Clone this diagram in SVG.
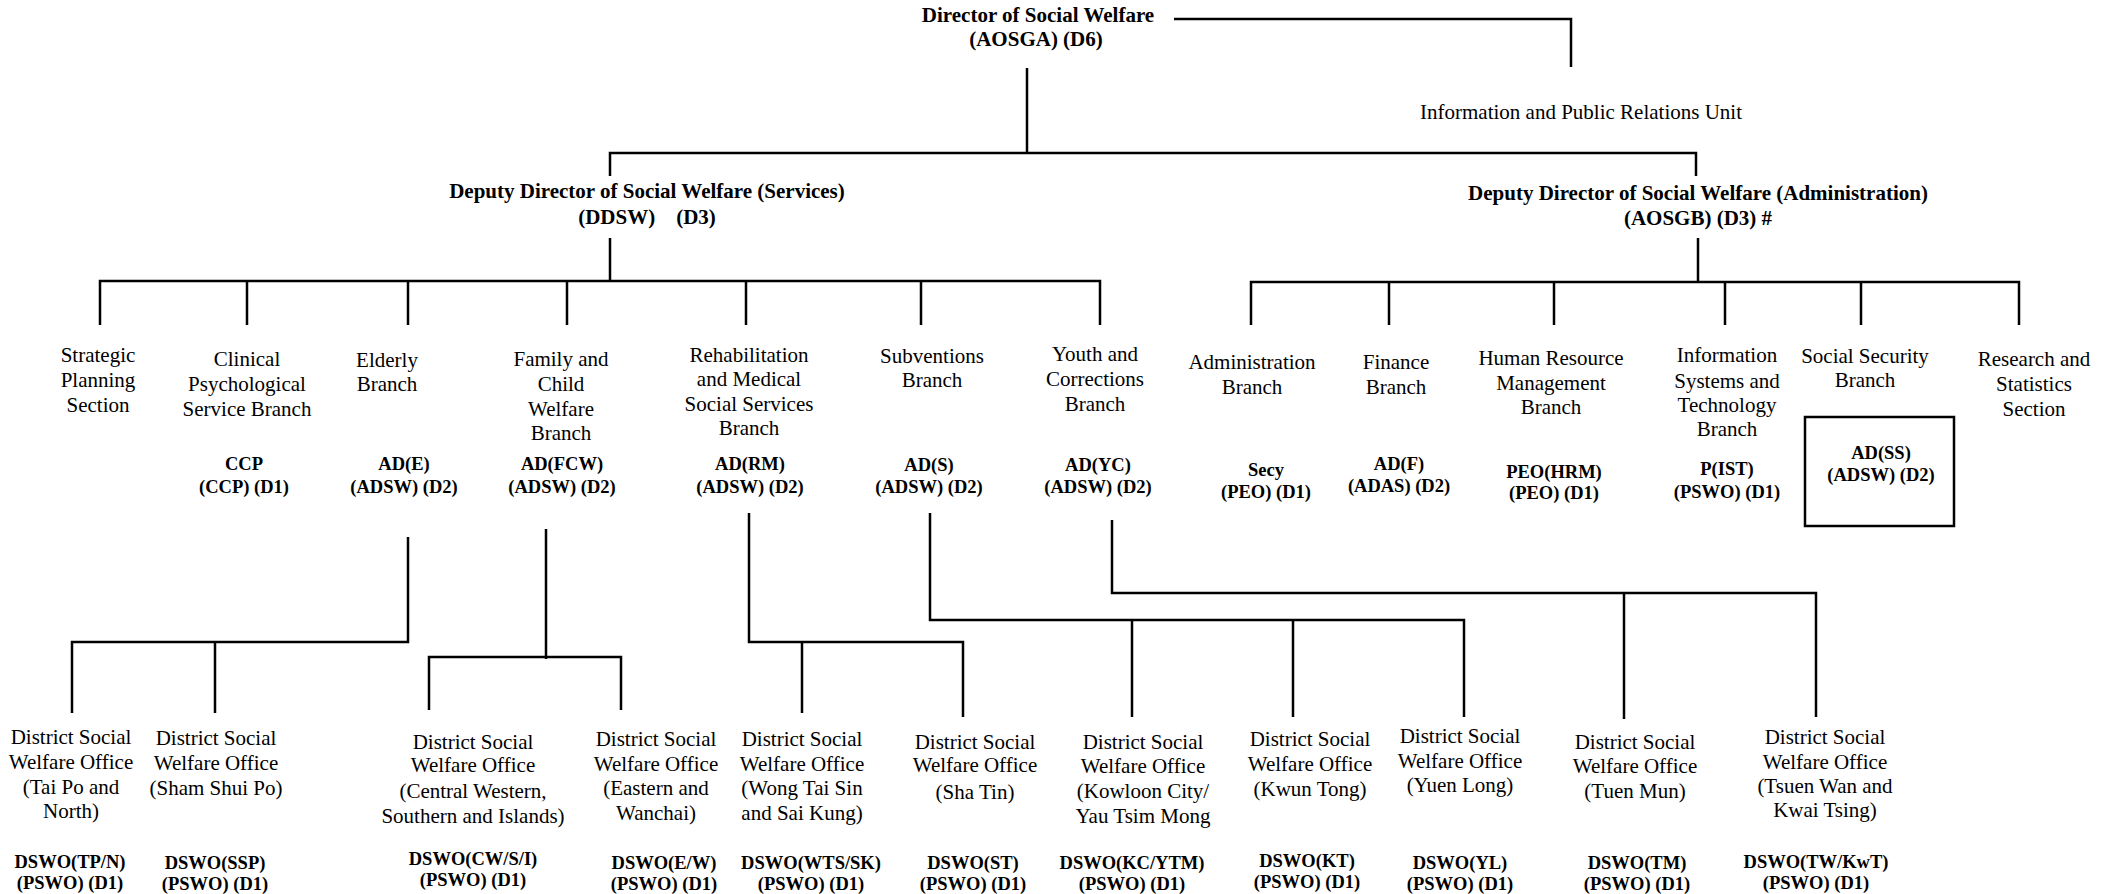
<svg xmlns="http://www.w3.org/2000/svg" width="2116" height="894" viewBox="0 0 2116 894">
<style>
.h{font-family:"Liberation Serif","Times New Roman",serif;font-size:21px;font-weight:bold;text-anchor:middle;fill:#000}
.t{font-family:"Liberation Serif","Times New Roman",serif;font-size:21px;text-anchor:middle;fill:#000}
.c{font-family:"Liberation Serif","Times New Roman",serif;font-size:18.5px;font-weight:bold;text-anchor:middle;fill:#000}
.ln{stroke:#000;stroke-width:2.5;fill:none}
.box{stroke:#000;stroke-width:2.5;fill:none}
</style>
<rect width="2116" height="894" fill="#fff"/>
<g id="connectors" class="ln">
<path d="M1174 19H1571V67"/>
<path d="M1027 68V153"/>
<path d="M610 176V153H1696V176"/>
<path d="M610 238V281"/>
<path d="M100 325V281H1100V325"/>
<path d="M247 281V325M408 281V325M567 281V325M746 281V325M921 281V325"/>
<path d="M1698 238V282"/>
<path d="M1251 325V282H2019V325"/>
<path d="M1389 282V325M1554 282V325M1725 282V325M1861 282V325"/>
<path d="M408 537V642H72V713M215 642V713"/>
<path d="M546 529V659M429 710V657H621V710"/>
<path d="M749 513V642H963V717M802 642V713"/>
<path d="M930 513V620H1464V717M1132 620V717M1293 620V717"/>
<path d="M1112 520V593H1816V717M1624 593V719"/>
</g>
<g id="director"><text class="h" x="1038"><tspan x="1038" y="22">Director of Social Welfare</tspan><tspan x="1036" y="46">(AOSGA) (D6)</tspan></text></g>
<g id="iprunit"><text class="t" x="1581" y="119">Information and Public Relations Unit</text></g>
<g id="ddsw-services"><text class="h" xml:space="preserve"><tspan x="647" y="198">Deputy Director of Social Welfare (Services)</tspan><tspan x="647" y="224">(DDSW)    (D3)</tspan></text></g>
<g id="ddsw-admin"><text class="h"><tspan x="1698" y="200">Deputy Director of Social Welfare (Administration)</tspan><tspan x="1698" y="225">(AOSGB) (D3) #</tspan></text></g>

<g id="strategic"><text class="t"><tspan x="98" y="362">Strategic</tspan><tspan x="98" y="387">Planning</tspan><tspan x="98" y="412">Section</tspan></text></g>
<g id="clinical"><text class="t"><tspan x="247" y="366">Clinical</tspan><tspan x="247" y="391">Psychological</tspan><tspan x="247" y="416">Service Branch</tspan></text><text class="c"><tspan x="244" y="470">CCP</tspan><tspan x="244" y="493">(CCP) (D1)</tspan></text></g>
<g id="elderly"><text class="t"><tspan x="387" y="367">Elderly</tspan><tspan x="387" y="391">Branch</tspan></text><text class="c"><tspan x="404" y="470">AD(E)</tspan><tspan x="404" y="493">(ADSW) (D2)</tspan></text></g>
<g id="fcw"><text class="t"><tspan x="561" y="366">Family and</tspan><tspan x="561" y="391">Child</tspan><tspan x="561" y="416">Welfare</tspan><tspan x="561" y="440">Branch</tspan></text><text class="c"><tspan x="562" y="470">AD(FCW)</tspan><tspan x="562" y="493">(ADSW) (D2)</tspan></text></g>
<g id="rehab"><text class="t"><tspan x="749" y="362">Rehabilitation</tspan><tspan x="749" y="386">and Medical</tspan><tspan x="749" y="411">Social Services</tspan><tspan x="749" y="435">Branch</tspan></text><text class="c"><tspan x="750" y="470">AD(RM)</tspan><tspan x="750" y="493">(ADSW) (D2)</tspan></text></g>
<g id="subventions"><text class="t"><tspan x="932" y="363">Subventions</tspan><tspan x="932" y="387">Branch</tspan></text><text class="c"><tspan x="929" y="471">AD(S)</tspan><tspan x="929" y="493">(ADSW) (D2)</tspan></text></g>
<g id="youth"><text class="t"><tspan x="1095" y="361">Youth and</tspan><tspan x="1095" y="386">Corrections</tspan><tspan x="1095" y="411">Branch</tspan></text><text class="c"><tspan x="1098" y="471">AD(YC)</tspan><tspan x="1098" y="493">(ADSW) (D2)</tspan></text></g>
<g id="admin"><text class="t"><tspan x="1252" y="369">Administration</tspan><tspan x="1252" y="394">Branch</tspan></text><text class="c"><tspan x="1266" y="476">Secy</tspan><tspan x="1266" y="498">(PEO) (D1)</tspan></text></g>
<g id="finance"><text class="t"><tspan x="1396" y="369">Finance</tspan><tspan x="1396" y="394">Branch</tspan></text><text class="c"><tspan x="1399" y="470">AD(F)</tspan><tspan x="1399" y="492">(ADAS) (D2)</tspan></text></g>
<g id="hrm"><text class="t"><tspan x="1551" y="365">Human Resource</tspan><tspan x="1551" y="390">Management</tspan><tspan x="1551" y="414">Branch</tspan></text><text class="c"><tspan x="1554" y="478">PEO(HRM)</tspan><tspan x="1554" y="499">(PEO) (D1)</tspan></text></g>
<g id="ist"><text class="t"><tspan x="1727" y="362">Information</tspan><tspan x="1727" y="388">Systems and</tspan><tspan x="1727" y="412">Technology</tspan><tspan x="1727" y="436">Branch</tspan></text><text class="c"><tspan x="1727" y="475">P(IST)</tspan><tspan x="1727" y="498">(PSWO) (D1)</tspan></text></g>
<g id="socialsecurity"><text class="t"><tspan x="1865" y="363">Social Security</tspan><tspan x="1865" y="387">Branch</tspan></text><rect class="box" x="1805" y="417" width="149" height="109"/><text class="c"><tspan x="1881" y="459">AD(SS)</tspan><tspan x="1881" y="481">(ADSW) (D2)</tspan></text></g>
<g id="research"><text class="t"><tspan x="2034" y="366">Research and</tspan><tspan x="2034" y="391">Statistics</tspan><tspan x="2034" y="416">Section</tspan></text></g>

<g id="dswo-tpn"><text class="t"><tspan x="71" y="744">District Social</tspan><tspan x="71" y="769">Welfare Office</tspan><tspan x="71" y="794">(Tai Po and</tspan><tspan x="71" y="818">North)</tspan></text><text class="c"><tspan x="70" y="868">DSWO(TP/N)</tspan><tspan x="70" y="889">(PSWO) (D1)</tspan></text></g>
<g id="dswo-ssp"><text class="t"><tspan x="216" y="745">District Social</tspan><tspan x="216" y="770">Welfare Office</tspan><tspan x="216" y="795">(Sham Shui Po)</tspan></text><text class="c"><tspan x="215" y="869">DSWO(SSP)</tspan><tspan x="215" y="890">(PSWO) (D1)</tspan></text></g>
<g id="dswo-cwsi"><text class="t"><tspan x="473" y="749">District Social</tspan><tspan x="473" y="772">Welfare Office</tspan><tspan x="473" y="798">(Central Western,</tspan><tspan x="473" y="823">Southern and Islands)</tspan></text><text class="c"><tspan x="473" y="865">DSWO(CW/S/I)</tspan><tspan x="473" y="886">(PSWO) (D1)</tspan></text></g>
<g id="dswo-ew"><text class="t"><tspan x="656" y="746">District Social</tspan><tspan x="656" y="771">Welfare Office</tspan><tspan x="656" y="795">(Eastern and</tspan><tspan x="656" y="820">Wanchai)</tspan></text><text class="c"><tspan x="664" y="869">DSWO(E/W)</tspan><tspan x="664" y="890">(PSWO) (D1)</tspan></text></g>
<g id="dswo-wtssk"><text class="t"><tspan x="802" y="746">District Social</tspan><tspan x="802" y="771">Welfare Office</tspan><tspan x="802" y="795">(Wong Tai Sin</tspan><tspan x="802" y="820">and Sai Kung)</tspan></text><text class="c"><tspan x="811" y="869">DSWO(WTS/SK)</tspan><tspan x="811" y="890">(PSWO) (D1)</tspan></text></g>
<g id="dswo-st"><text class="t"><tspan x="975" y="749">District Social</tspan><tspan x="975" y="772">Welfare Office</tspan><tspan x="975" y="799">(Sha Tin)</tspan></text><text class="c"><tspan x="973" y="869">DSWO(ST)</tspan><tspan x="973" y="890">(PSWO) (D1)</tspan></text></g>
<g id="dswo-kcytm"><text class="t"><tspan x="1143" y="749">District Social</tspan><tspan x="1143" y="773">Welfare Office</tspan><tspan x="1143" y="798">(Kowloon City/</tspan><tspan x="1143" y="823">Yau Tsim Mong</tspan></text><text class="c"><tspan x="1132" y="869">DSWO(KC/YTM)</tspan><tspan x="1132" y="890">(PSWO) (D1)</tspan></text></g>
<g id="dswo-kt"><text class="t"><tspan x="1310" y="746">District Social</tspan><tspan x="1310" y="771">Welfare Office</tspan><tspan x="1310" y="796">(Kwun Tong)</tspan></text><text class="c"><tspan x="1307" y="867">DSWO(KT)</tspan><tspan x="1307" y="888">(PSWO) (D1)</tspan></text></g>
<g id="dswo-yl"><text class="t"><tspan x="1460" y="743">District Social</tspan><tspan x="1460" y="768">Welfare Office</tspan><tspan x="1460" y="792">(Yuen Long)</tspan></text><text class="c"><tspan x="1460" y="869">DSWO(YL)</tspan><tspan x="1460" y="890">(PSWO) (D1)</tspan></text></g>
<g id="dswo-tm"><text class="t"><tspan x="1635" y="749">District Social</tspan><tspan x="1635" y="773">Welfare Office</tspan><tspan x="1635" y="798">(Tuen Mun)</tspan></text><text class="c"><tspan x="1637" y="869">DSWO(TM)</tspan><tspan x="1637" y="890">(PSWO) (D1)</tspan></text></g>
<g id="dswo-twkwt"><text class="t"><tspan x="1825" y="744">District Social</tspan><tspan x="1825" y="769">Welfare Office</tspan><tspan x="1825" y="793">(Tsuen Wan and</tspan><tspan x="1825" y="817">Kwai Tsing)</tspan></text><text class="c"><tspan x="1816" y="868">DSWO(TW/KwT)</tspan><tspan x="1816" y="889">(PSWO) (D1)</tspan></text></g>
</svg>
